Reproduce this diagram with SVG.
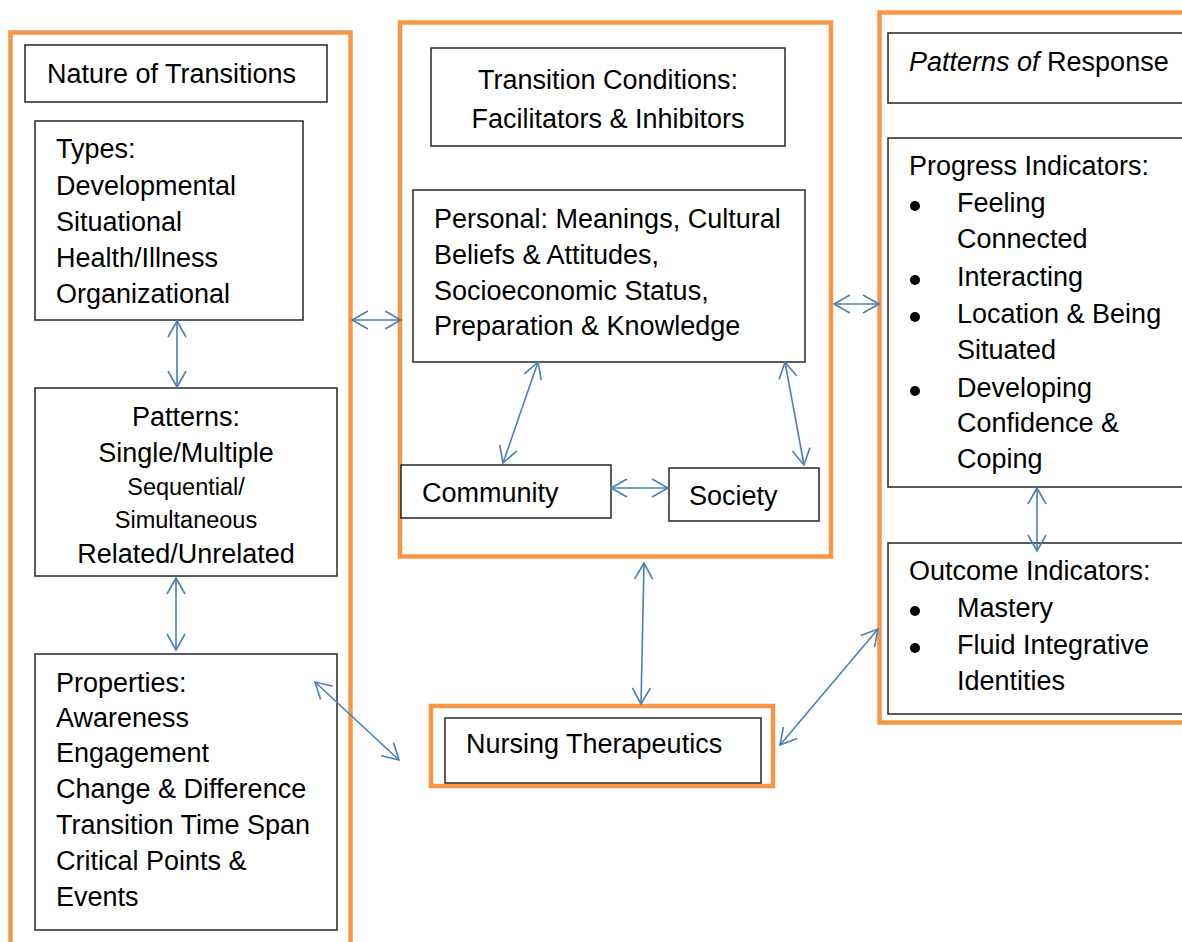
<svg xmlns="http://www.w3.org/2000/svg" width="1182" height="942" viewBox="0 0 1182 942">
<style>
.frame{fill:none;stroke:#F79646;stroke-width:4.5}
.box{fill:#fff;stroke:#262626;stroke-width:1.5}
.t{font-family:"Liberation Sans",Arial,sans-serif;font-size:27px;fill:#000}
.s{font-size:23.5px}
.c{text-anchor:middle}
.conn{fill:none;stroke:#4A7EBB;stroke-width:1.6;marker-start:url(#ah);marker-end:url(#ah)}
.bul{fill:#000}
</style>
<defs>
<marker id="ah" markerUnits="userSpaceOnUse" markerWidth="20" markerHeight="22" refX="16" refY="10" orient="auto-start-reverse" overflow="visible">
<path d="M0,1 L16,10 L0,19" fill="none" stroke="#4A7EBB" stroke-width="1.6"/>
</marker>
</defs>
<rect width="1182" height="942" fill="#fff"/>

<g id="nature-frame">
<rect class="frame" x="10.5" y="32.5" width="340" height="950"/>
</g>
<g id="nature">
<rect class="box" x="25" y="45" width="302" height="57"/>
<text class="t" x="47" y="83">Nature of Transitions</text>
</g>
<g id="types">
<rect class="box" x="35" y="121" width="268" height="199"/>
<text class="t" x="56" y="158">Types:</text>
<text class="t" x="56" y="195">Developmental</text>
<text class="t" x="56" y="231">Situational</text>
<text class="t" x="56" y="267">Health/Illness</text>
<text class="t" x="56" y="303">Organizational</text>
</g>
<g id="patterns">
<rect class="box" x="35" y="388" width="302" height="188"/>
<text class="t c" x="186" y="426">Patterns:</text>
<text class="t c" x="186" y="462">Single/Multiple</text>
<text class="t s c" x="186" y="495">Sequential/</text>
<text class="t s c" x="186" y="528">Simultaneous</text>
<text class="t c" x="186" y="563">Related/Unrelated</text>
</g>
<g id="properties">
<rect class="box" x="35" y="654" width="302" height="276"/>
<text class="t" x="56" y="692">Properties:</text>
<text class="t" x="56" y="727">Awareness</text>
<text class="t" x="56" y="762">Engagement</text>
<text class="t" x="56" y="798">Change &amp; Difference</text>
<text class="t" x="56" y="834">Transition Time Span</text>
<text class="t" x="56" y="870">Critical Points &amp;</text>
<text class="t" x="56" y="906">Events</text>
</g>

<g id="conditions-frame">
<rect class="frame" x="400" y="22.5" width="431" height="534"/>
</g>
<g id="conditions">
<rect class="box" x="431" y="48" width="354" height="98"/>
<text class="t c" x="608" y="89">Transition Conditions:</text>
<text class="t c" x="608" y="128">Facilitators &amp; Inhibitors</text>
</g>
<g id="personal">
<rect class="box" x="413" y="190" width="392" height="172"/>
<text class="t" x="434" y="228">Personal: Meanings, Cultural</text>
<text class="t" x="434" y="264">Beliefs &amp; Attitudes,</text>
<text class="t" x="434" y="300">Socioeconomic Status,</text>
<text class="t" x="434" y="335">Preparation &amp; Knowledge</text>
</g>
<g id="community">
<rect class="box" x="401" y="465" width="210" height="53"/>
<text class="t" x="422" y="502">Community</text>
</g>
<g id="society">
<rect class="box" x="669" y="468" width="150" height="53"/>
<text class="t" x="689" y="505">Society</text>
</g>

<g id="nursing">
<rect class="frame" x="431" y="706" width="342" height="80"/>
<rect class="box" x="445" y="718" width="316" height="65"/>
<text class="t" x="466" y="753">Nursing Therapeutics</text>
</g>

<g id="response-frame">
<rect class="frame" x="879.5" y="12.5" width="330" height="710"/>
</g>
<g id="response">
<rect class="box" x="888" y="33" width="320" height="70"/>
<text class="t" x="909" y="71"><tspan font-style="italic">Patterns of</tspan> Response</text>
</g>
<g id="progress">
<rect class="box" x="888" y="138" width="320" height="349"/>
<text class="t" x="909" y="175">Progress Indicators:</text>
<circle class="bul" cx="915" cy="206" r="5"/>
<text class="t" x="957" y="212">Feeling</text>
<text class="t" x="957" y="248">Connected</text>
<circle class="bul" cx="915" cy="280" r="5"/>
<text class="t" x="957" y="286">Interacting</text>
<circle class="bul" cx="915" cy="317" r="5"/>
<text class="t" x="957" y="323">Location &amp; Being</text>
<text class="t" x="957" y="359">Situated</text>
<circle class="bul" cx="915" cy="391" r="5"/>
<text class="t" x="957" y="397">Developing</text>
<text class="t" x="957" y="432">Confidence &amp;</text>
<text class="t" x="957" y="468">Coping</text>
</g>
<g id="outcome">
<rect class="box" x="888" y="543" width="320" height="171"/>
<text class="t" x="909" y="580">Outcome Indicators:</text>
<circle class="bul" cx="915" cy="611" r="5"/>
<text class="t" x="957" y="617">Mastery</text>
<circle class="bul" cx="915" cy="648" r="5"/>
<text class="t" x="957" y="654">Fluid Integrative</text>
<text class="t" x="957" y="690">Identities</text>
</g>

<g id="connectors">
<path class="conn" d="M352,320 L401,320"/>
<path class="conn" d="M834,304 L879,304"/>
<path class="conn" d="M177,321 L177,387"/>
<path class="conn" d="M176,578 L176,650"/>
<path class="conn" d="M538,362 L503,463"/>
<path class="conn" d="M785,362 L804,465"/>
<path class="conn" d="M611,488 L668,488"/>
<path class="conn" d="M644,563 L641,704"/>
<path class="conn" d="M315,682 L399,760"/>
<path class="conn" d="M878,629 L780,745"/>
<path class="conn" d="M1037,488 L1037,551"/>
</g>
</svg>
